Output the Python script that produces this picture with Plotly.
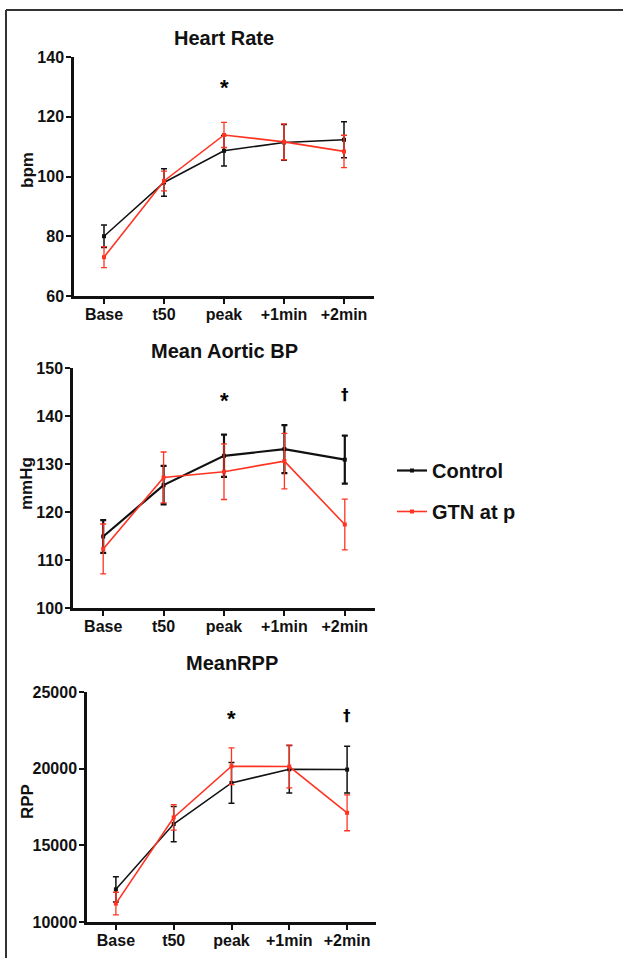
import plotly.graph_objects as go

W, H = 623, 958

categories = ["Base", "t50", "peak", "+1min", "+2min"]

hr_control = [80, 98, 108.6, 111.4, 112.3]
hr_control_err = [3.8, 4.6, 5.1, 6.0, 6.0]
hr_gtn = [73, 98.5, 113.9, 111.6, 108.4]
hr_gtn_err = [3.5, 3.3, 4.2, 6.0, 5.4]

bp_control = [114.9, 125.6, 131.7, 133.1, 130.9]
bp_control_err = [3.4, 4.0, 4.4, 5.0, 5.0]
bp_gtn = [112.3, 127.2, 128.4, 130.6, 117.4]
bp_gtn_err = [5.2, 5.3, 5.8, 5.8, 5.3]

rpp_control = [12130, 16390, 19070, 19960, 19940]
rpp_control_err = [820, 1150, 1330, 1550, 1520]
rpp_gtn = [11200, 16820, 20160, 20140, 17120]
rpp_gtn_err = [740, 830, 1200, 1390, 1170]

hr_ticks = [60, 80, 100, 120, 140]
bp_ticks = [100, 110, 120, 130, 140, 150]
rpp_ticks = [10000, 15000, 20000, 25000]

titles = ["Heart Rate", "Mean Aortic BP", "MeanRPP"]
ytitles = ["bpm", "mmHg", "RPP"]
series_names = ["Control", "GTN at p"]

# significance markers: (panel, category, value, symbol)
sig_marks = [
    (0, "peak", 129.8, "*"),
    (1, "peak", 143.3, "*"),
    (1, "+2min", 144.3, "†"),
    (2, "peak", 23300, "*"),
    (2, "+2min", 23450, "†"),
]

BLACK = "#111111"
RED = "#ff3322"
FONT = "Liberation Sans, Arial, sans-serif"

# panel pixel boxes: (left, right, top, bottom)
boxes = [
    (74, 374, 57, 296),
    (73, 375, 368, 608),
    (87, 376, 692, 922),
]
ranges = [[60, 140], [100, 150], [10000, 25000]]
tickvals = [hr_ticks, bp_ticks, rpp_ticks]
data = [
    (hr_control, hr_control_err, hr_gtn, hr_gtn_err),
    (bp_control, bp_control_err, bp_gtn, bp_gtn_err),
    (rpp_control, rpp_control_err, rpp_gtn, rpp_gtn_err),
]
lw = [1.5, 2.2, 1.5]

fig = go.Figure()
layout = dict(
    width=W, height=H, margin=dict(l=0, r=0, t=0, b=0, pad=0, autoexpand=False),
    paper_bgcolor="white", plot_bgcolor="white",
    font=dict(family=FONT, color=BLACK),
    showlegend=True,
    legend=dict(x=392 / W, y=1 - 451 / H, xanchor="left", yanchor="top",
                font=dict(size=20, family=FONT, color=BLACK, weight="bold"),
                tracegroupgap=12, bgcolor="rgba(0,0,0,0)", itemwidth=30),
)
annotations = []
for i in range(3):
    l, r, t, b = boxes[i]
    xa = "xaxis" if i == 0 else f"xaxis{i+1}"
    ya = "yaxis" if i == 0 else f"yaxis{i+1}"
    xr = "x" if i == 0 else f"x{i+1}"
    yr = "y" if i == 0 else f"y{i+1}"
    layout[xa] = dict(domain=[l / W, r / W], anchor=yr, type="category",
                      categoryorder="array", categoryarray=categories, automargin=False,
                      range=[-0.5, 4.5], showline=True, linecolor=BLACK, linewidth=2.5,
                      ticks="outside", ticklen=5, tickwidth=2, tickcolor=BLACK,
                      showgrid=False, zeroline=False, ticklabelstandoff=-3,
                      tickfont=dict(size=16, family=FONT, color=BLACK, weight="bold"))
    layout[ya] = dict(domain=[1 - b / H, 1 - t / H], anchor=xr, range=ranges[i],
                      tickvals=tickvals[i], tickformat="d", showline=True, linecolor=BLACK,
                      linewidth=2.5, ticks="outside", ticklen=5, tickwidth=2, tickcolor=BLACK,
                      showgrid=False, zeroline=False, ticklabelstandoff=-1, automargin=False,
                      tickfont=dict(size=16, family=FONT, color=BLACK, weight="bold"))
    c, ce, g, ge = data[i]
    for name, vals, errs, col in [(series_names[0], c, ce, BLACK), (series_names[1], g, ge, RED)]:
        fig.add_trace(go.Scatter(
            x=categories, y=vals, mode="lines+markers", name=name,
            line=dict(color=col, width=lw[i] if col == BLACK else 1.6),
            marker=dict(symbol="square", size=4, color=col),
            error_y=dict(type="data", array=errs, visible=True, color=col,
                         thickness=lw[i] if col == BLACK else 1.3, width=3),
            xaxis=xr, yaxis=yr, showlegend=(i == 1), legendgroup=name,
        ))
    annotations.append(dict(text=f"<b>{titles[i]}</b>", x=((l + r) / 2) / W if i != 2 else 232 / W,
                            y=1 - [38, 351, 663][i] / H, xref="paper", yref="paper",
                            showarrow=False, xanchor="center", yanchor="middle",
                            font=dict(size=20, family=FONT, color=BLACK)))
    annotations.append(dict(text=f"<b>{ytitles[i]}</b>", x=27 / W,
                            y=1 - [170, 483, 801][i] / H, xref="paper", yref="paper",
                            showarrow=False, textangle=-90, xanchor="center", yanchor="middle",
                            font=dict(size=17, family=FONT, color=BLACK)))

for panel, cat, val, sym in sig_marks:
    xr = "x" if panel == 0 else f"x{panel+1}"
    yr = "y" if panel == 0 else f"y{panel+1}"
    annotations.append(dict(text=f"<b>{sym}</b>", x=cat, y=val, xref=xr, yref=yr, showarrow=False,
                            xanchor="center", yanchor="middle",
                            font=dict(size=22 if sym == "*" else 15,
                                      family=FONT if sym == "*" else "DejaVu Sans",
                                      color="#000000")))

layout["annotations"] = annotations
layout["shapes"] = [
    dict(type="line", xref="paper", yref="paper", x0=6 / W, x1=1, y0=1 - 10 / H, y1=1 - 10 / H,
         line=dict(color="#333333", width=2)),
    dict(type="line", xref="paper", yref="paper", x0=6 / W, x1=6 / W, y0=0, y1=1 - 10 / H,
         line=dict(color="#333333", width=2)),
]
fig.update_layout(**layout)
fig.write_html("out.html", config={"displayModeBar": False},
               post_script="document.body.style.margin='0';document.body.style.overflow='hidden';")
